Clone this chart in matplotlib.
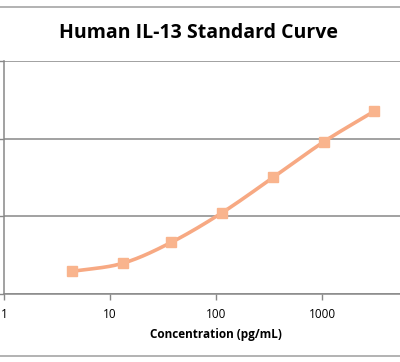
import matplotlib
matplotlib.use("Agg")
import matplotlib.pyplot as plt
import numpy as np
from matplotlib.lines import Line2D


concentration = [4.4, 13.2, 38, 114, 347, 1045, 3100]
od = [0.29, 0.395, 0.665, 1.045, 1.50, 1.96, 2.35]
x_ticks = [1, 10, 100, 1000]
x_tick_labels = ["1", "10", "100", "1000"]
y_grid = [0, 1, 2, 3]

LINE = "#F7A983"
MARK = "#F9B48D"
GRID = "#888888"


def smooth(xs, ys, n=30):
  # catmull-rom through the points in log-x space, like the excel smoothed line
  u = np.log10(xs)
  v = np.asarray(ys, dtype=float)
  pu = np.concatenate([[2 * u[0] - u[1]], u, [2 * u[-1] - u[-2]]])
  pv = np.concatenate([[2 * v[0] - v[1]], v, [2 * v[-1] - v[-2]]])
  out_u, out_v = [], []
  t = np.linspace(0, 1, n)
  for i in range(1, len(pu) - 2):
    for p, out in ((pu, out_u), (pv, out_v)):
      p0, p1, p2, p3 = p[i - 1], p[i], p[i + 1], p[i + 2]
      out.extend(0.5 * (2 * p1 + (-p0 + p2) * t
                        + (2 * p0 - 5 * p1 + 4 * p2 - p3) * t ** 2
                        + (-p0 + 3 * p1 - 3 * p2 + p3) * t ** 3))
  return 10 ** np.array(out_u), np.array(out_v)


fig = plt.figure(figsize=(4, 3.62), dpi=100)
ax = fig.add_axes([0.01, 0.188, 1.06, 0.644])

sx, sy = smooth(concentration, od)
ax.plot(sx, sy, color=LINE, lw=2.6, solid_capstyle="round", zorder=3)
ax.plot(concentration, od, ls="none", marker="s", ms=7.5,
        color=MARK, mec=MARK, zorder=4)

ax.set_xscale("log")
ax.set_xlim(1, 10000)
ax.set_ylim(0, 3)
ax.set_xticks(x_ticks + [10000])
ax.set_xticklabels(x_tick_labels + [""], fontsize=8.5, family="Open Sans")
ax.minorticks_off()
ax.set_yticks(y_grid)
ax.set_yticklabels([])
ax.grid(axis="y", color=GRID, lw=1.1)
ax.tick_params(axis="x", length=4, color=GRID, width=1, pad=6)
ax.tick_params(axis="y", length=4, color=GRID, width=1)
for side in ("top", "right"):
  ax.spines[side].set_visible(False)
for side in ("left", "bottom"):
  ax.spines[side].set_color(GRID)
  ax.spines[side].set_linewidth(1.1)
ax.set_axisbelow(True)

ax.set_xlabel("Concentration (pg/mL)", fontsize=8.5, fontweight="bold",
              family="Open Sans", labelpad=5)
fig.text(0.496, 0.908, "Human IL-13 Standard Curve", ha="center",
         va="center", fontsize=14, fontweight="bold", family="Open Sans")

# chart border (top and bottom edges of the cropped chart area)
for yf in (1 - 7 / 362, 1 - 356 / 362):
  fig.add_artist(Line2D([0, 1], [yf, yf], transform=fig.transFigure,
                        color="#A6A6A6", lw=1.2))

fig.savefig("out.png", dpi=100)
